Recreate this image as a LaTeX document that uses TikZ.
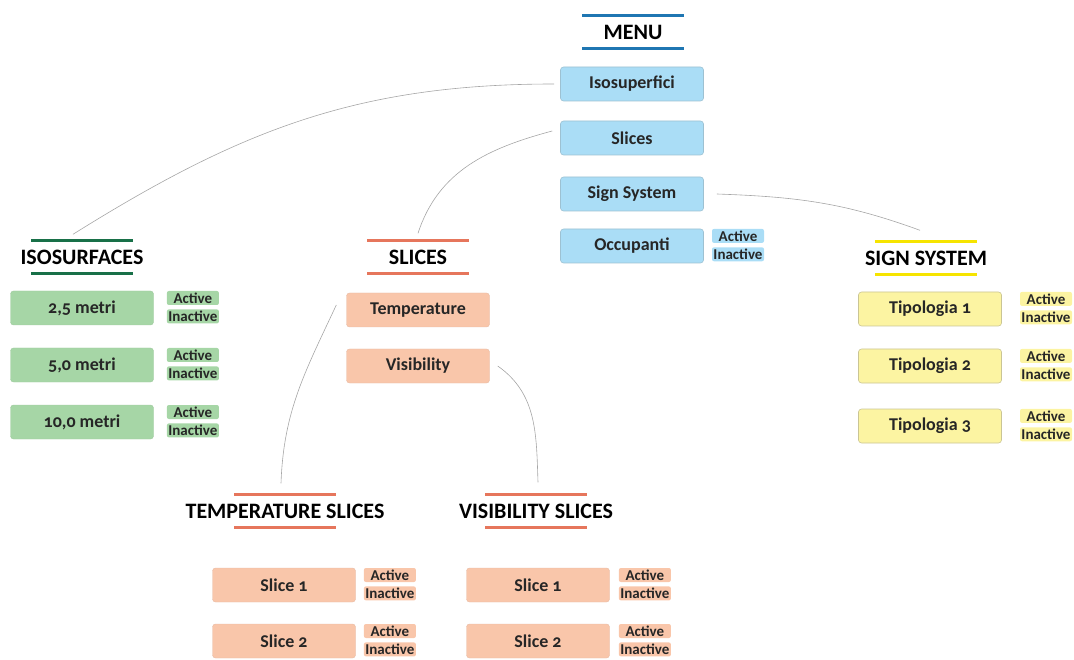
\documentclass[tikz,border=0pt]{standalone}
\usepackage{fontspec}
\setmainfont[Numbers=OldStyle]{Carlito}
\usetikzlibrary{positioning}

\definecolor{menublue}{RGB}{31,118,178}
\definecolor{isogreen}{RGB}{24,112,72}
\definecolor{slicered}{RGB}{230,118,92}
\definecolor{signyellow}{RGB}{246,228,0}
\definecolor{bluefill}{RGB}{170,221,246}
\definecolor{greenfill}{RGB}{166,214,166}
\definecolor{redfill}{RGB}{249,198,170}
\definecolor{yellowfill}{RGB}{252,244,162}

\tikzset{
	box/.style = {rectangle, rounded corners=3pt, minimum width=143, minimum height=34,
		inner sep=0, font=\fontsize{18}{20}\selectfont\bfseries, text=black!85},
	bluebox/.style = {box, fill=bluefill, draw=bluefill!70!gray, line width=0.6pt},
	greenbox/.style = {box, fill=greenfill, draw=greenfill!85!gray, line width=0.4pt},
	redbox/.style = {box, fill=redfill, draw=redfill!85!gray, line width=0.4pt},
	yellowbox/.style = {box, fill=yellowfill, draw=yellowfill!60!gray, line width=0.6pt},
	tag/.style = {rectangle, rounded corners=2pt, fill=#1, minimum width=52, minimum height=14,
		inner sep=0, font=\fontsize{15}{15}\selectfont\bfseries, text=black!85},
	head/.style = {minimum width=103, minimum height=33, inner sep=0,
		font=\fontsize{22}{24}\selectfont\bfseries},
	link/.style = {draw=black!35, line width=0.6pt}
}

% Active / Inactive labels next to a box
\newcommand{\onoff}[3]{
	\node[tag=#3, anchor=north west] (#1a) at ([xshift=#2]#1.north east) {Active};
	\node[tag=#3, below=4pt of #1a.south west, anchor=north west] (#1i) {Inactive};
}

\begin{document}
\begin{tikzpicture}[x=1pt, y=-1pt]
	\useasboundingbox (0,0) rectangle (1074,660);

	% headings
	\node[head] (menuh) at (633,32) {MENU};
	\node[head] (isoh) at (82,257) {ISOSURFACES};
	\node[head] (sliceh) at (418,257) {SLICES};
	\node[head] (signh) at (926,258) {SIGN SYSTEM};
	\node[head] (temph) at (285,511) {TEMPERATURE SLICES};
	\node[head] (vish) at (536,511) {VISIBILITY SLICES};
	\foreach \h/\c in {menuh/menublue, isoh/isogreen, sliceh/slicered,
		signh/signyellow, temph/slicered, vish/slicered}{
		\draw[\c, line width=2.5pt] ([xshift=-51]\h.north) -- ([xshift=51]\h.north);
		\draw[\c, line width=2.5pt] ([xshift=-51]\h.south) -- ([xshift=51]\h.south);
	}

	% menu
	\node[bluebox] (iso) at (632,84) {Isosuperfici};
	\node[bluebox] (slices) at (632,138) {Slices};
	\node[bluebox] (sign) at (632,194) {Sign System};
	\node[bluebox] (occ) at (632,246) {Occupanti};
	\onoff{occ}{8}{bluefill}

	% isosurfaces
	\node[greenbox] (iso25) at (82,308) {2,5 metri};
	\node[greenbox] (iso50) at (82,365) {5,0 metri};
	\node[greenbox] (iso100) at (82,422) {10,0 metri};
	\foreach \n in {iso25, iso50, iso100}{ \onoff{\n}{13}{greenfill} }

	% slices
	\node[redbox] (temp) at (418,310) {Temperature};
	\node[redbox] (vis) at (418,366) {Visibility};

	% sign system
	\node[yellowbox] (tip1) at (930,309) {Tipologia 1};
	\node[yellowbox] (tip2) at (930,366) {Tipologia 2};
	\node[yellowbox] (tip3) at (930,426) {Tipologia 3};
	\foreach \n in {tip1, tip2, tip3}{ \onoff{\n}{18}{yellowfill} }

	% temperature / visibility slices
	\node[redbox] (ts1) at (284,585) {Slice 1};
	\node[redbox] (ts2) at (284,641) {Slice 2};
	\node[redbox] (vs1) at (538,585) {Slice 1};
	\node[redbox] (vs2) at (538,641) {Slice 2};
	\foreach \n in {ts1, ts2}{ \onoff{\n}{8}{redfill} }
	\foreach \n in {vs1, vs2}{ \onoff{\n}{9}{redfill} }

	% connectors
	\draw[link] ([xshift=-6]iso.west) to[out=180, in=32] ([xshift=-9, yshift=6]isoh.north);
	\draw[link] ([xshift=-8, yshift=7]slices.west) to[out=195, in=72] ([yshift=7]sliceh.north);
	\draw[link] ([xshift=13]sign.east) to[out=-2, in=160] ([xshift=-6, yshift=11]signh.north);
	\draw[link] ([xshift=-10, yshift=5]temp.west) to[out=245, in=88] ([xshift=-4, yshift=11]temph.north);
	\draw[link] ([xshift=8]vis.east) to[out=-35, in=92] ([xshift=2, yshift=12]vish.north);
\end{tikzpicture}
\end{document}
